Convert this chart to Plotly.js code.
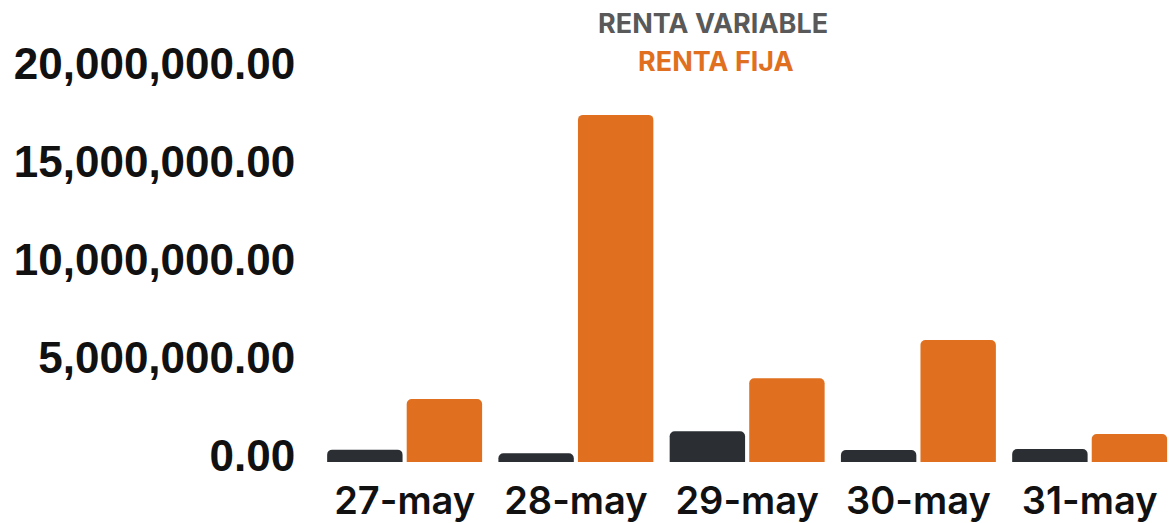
<!DOCTYPE html>
<html>
<head>
<meta charset="utf-8">
<script src="https://cdn.plot.ly/plotly-3.0.1.min.js"></script>
<style>html,body{margin:0;padding:0;background:#fff;}#chart{width:1173px;height:523px;}</style>
</head>
<body>
<div id="chart"></div>
<script>
const categories = ['27-may', '28-may', '29-may', '30-may', '31-may'];
const rentaVariable = [630000, 440000, 1570000, 610000, 660000];
const rentaFija = [3210000, 17700000, 4270000, 6220000, 1430000];
const seriesNames = ['RENTA VARIABLE', 'RENTA FIJA'];
const yTicks = [0, 5000000, 10000000, 15000000, 20000000];
const yTickLabels = ['0.00', '5,000,000.00', '10,000,000.00', '15,000,000.00', '20,000,000.00'];

const colors = ['#2b2f33', '#e0701f'];
const legendColors = ['#595959', '#e0701f'];

const traces = [
  {type: 'bar', x: categories, y: rentaVariable, name: seriesNames[0],
   marker: {color: colors[0], cornerradius: 5}, showlegend: false, hoverinfo: 'x+y+name'},
  {type: 'bar', x: categories, y: rentaFija, name: seriesNames[1],
   marker: {color: colors[1], cornerradius: 5}, showlegend: false, hoverinfo: 'x+y+name'}
];

const layout = {
  width: 1173, height: 523,
  margin: {l: 319, r: 0, t: 60, b: 61, pad: 0},
  paper_bgcolor: '#fff', plot_bgcolor: '#fff',
  barmode: 'group', bargap: 0.071, bargroupgap: 0.052,
  showlegend: false,
  xaxis: {
    type: 'category', range: [-0.5, 4.4866], showgrid: false, zeroline: false, showline: false,
    ticks: 'outside', ticklen: 5, tickcolor: 'rgba(0,0,0,0)',
    tickfont: {family: 'Inter', size: 38, color: '#111', weight: 600}
  },
  yaxis: {
    range: [0, 20500000], showgrid: false, zeroline: false, showline: false,
    tickmode: 'array', tickvals: yTicks, ticktext: yTickLabels,
    ticks: 'outside', ticklen: 14, tickcolor: 'rgba(0,0,0,0)', ticklabelshift: -6,
    tickfont: {family: 'Liberation Sans', size: 44, color: '#111', weight: 700}
  },
  annotations: [
    {xref: 'paper', yref: 'paper', x: (713 - 319) / 854, y: 1 + (60 - 24) / 402, text: '<b>' + seriesNames[0] + '</b>',
     showarrow: false, xanchor: 'center', yanchor: 'middle', font: {family: 'Inter', size: 27, color: legendColors[0]}},
    {xref: 'paper', yref: 'paper', x: (716 - 319) / 854, y: 1 + (60 - 62) / 402, text: '<b>' + seriesNames[1] + '</b>',
     showarrow: false, xanchor: 'center', yanchor: 'middle', font: {family: 'Inter', size: 27, color: legendColors[1]}}
  ]
};

Plotly.newPlot('chart', traces, layout, {displayModeBar: false, responsive: false});
</script>
</body>
</html>
